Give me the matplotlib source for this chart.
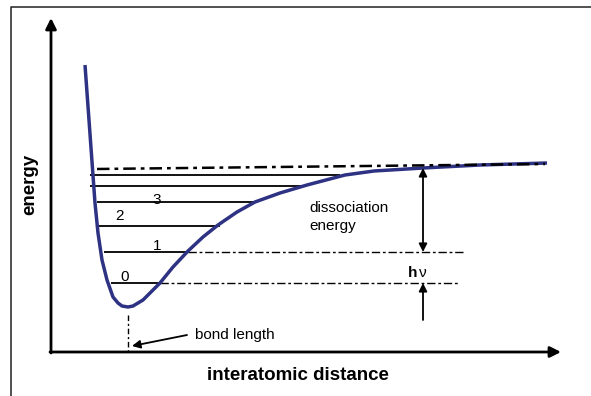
import matplotlib
matplotlib.use("Agg")
import matplotlib.pyplot as plt

plt.rcParams['font.family'] = ['Liberation Sans', 'DejaVu Sans']

# potential energy curve (distance, energy)
curve_r = [34, 38.5, 41.6, 44, 47, 51, 56, 62, 67, 71, 77, 82, 92, 109, 122, 137,
           152, 167, 186, 204, 229, 256, 294, 323, 372, 429, 496]
curve_e = [287, 225, 182, 149, 119, 92, 72, 55, 49, 46, 45, 46, 52, 69, 85, 101,
           115, 127, 140, 150, 159, 167, 177, 181, 184, 187, 189]

# vibrational levels: energy, left end, right end (where they meet the curve)
level_e = [69, 100, 126, 150, 166, 177]
level_x0 = [60, 53, 46, 46, 39, 39]
level_x1 = [109, 137, 169, 204, 256, 289]
level_labels = ['0', '1', '2', '3', '', '']
label_x = [74, 106, 68, 106]
label_y = [75, 106, 136.5, 152]

dissoc_e = [183, 188]     # dissociation limit (dash-dot line)
dissoc_r = [46, 494]
bond_length = 77
guide_x1 = [407, 412]      # dash-dot extension of levels 0 and 1

fig = plt.figure(figsize=(5.91, 3.96), dpi=100)
ax = fig.add_axes([0, 0, 1, 1])
ax.set_xlim(-51, 540)
ax.set_ylim(-44, 352)
ax.axis('off')

navy = '#2e3283'

# frame (only top/left edges are in view)
ax.plot([-40, -40, 540], [-44, 345, 345], color='#222222', lw=1.1, clip_on=False)

# axes with arrows
ax.annotate('', xy=(0, 334), xytext=(0, -1),
            arrowprops=dict(arrowstyle='-|>', lw=2, color='black', mutation_scale=16,
                            shrinkA=0, shrinkB=0))
ax.annotate('', xy=(510, 0), xytext=(-1, 0),
            arrowprops=dict(arrowstyle='-|>', lw=2, color='black', mutation_scale=16,
                            shrinkA=0, shrinkB=0))

# levels
for e, x0, x1 in zip(level_e, level_x0, level_x1):
    ax.plot([x0, x1], [e, e], color='black', lw=1.3, solid_capstyle='butt')
for e, x0, x1 in zip(level_e[:2], level_x1[:2], guide_x1):
    ax.plot([x0, x1], [e, e], color='black', lw=1.0, linestyle=(0, (6, 2, 2, 2)))

ax.plot(curve_r, curve_e, color=navy, lw=2.5, solid_joinstyle='round',
        solid_capstyle='butt')

ax.plot(dissoc_r, dissoc_e, color='black', lw=1.8, linestyle=(0, (5, 2, 1.5, 2)))

for lab, x, y in zip(level_labels, label_x, label_y):
    ax.text(x, y, lab, fontsize=11, ha='center', va='center')

# dissociation energy arrow
ax.annotate('', xy=(372, 100), xytext=(372, 184),
            arrowprops=dict(arrowstyle='<|-|>', lw=1.3, color='black', mutation_scale=12,
                            shrinkA=0, shrinkB=0))
ax.text(258, 135, 'dissociation\nenergy', fontsize=11, ha='left', va='center',
        linespacing=1.35)

# h nu arrow
ax.annotate('', xy=(372, 69), xytext=(372, 32),
            arrowprops=dict(arrowstyle='-|>', lw=1.3, color='black', mutation_scale=12,
                            shrinkA=0, shrinkB=0))
ax.text(362, 79, 'h', fontsize=11, fontweight='bold', ha='center', va='center')
ax.text(372, 79, 'ν', fontsize=11, ha='center', va='center')

# bond length
ax.plot([bond_length, bond_length], [37, 0], color='black', lw=1.0,
        linestyle=(0, (4, 2, 1.5, 2)))
ax.annotate('', xy=(bond_length + 4, 6), xytext=(136, 17),
            arrowprops=dict(arrowstyle='-|>', lw=1.3, color='black', mutation_scale=12,
                            shrinkA=0, shrinkB=0))
ax.text(144, 17, 'bond length', fontsize=11, ha='left', va='center')

ax.text(247, -24, 'interatomic distance', fontsize=13.5, fontweight='bold',
        ha='center', va='center')
ax.text(-21, 168, 'energy', fontsize=13.5, fontweight='bold', rotation=90,
        ha='center', va='center')

fig.savefig('out.png', dpi=100)
